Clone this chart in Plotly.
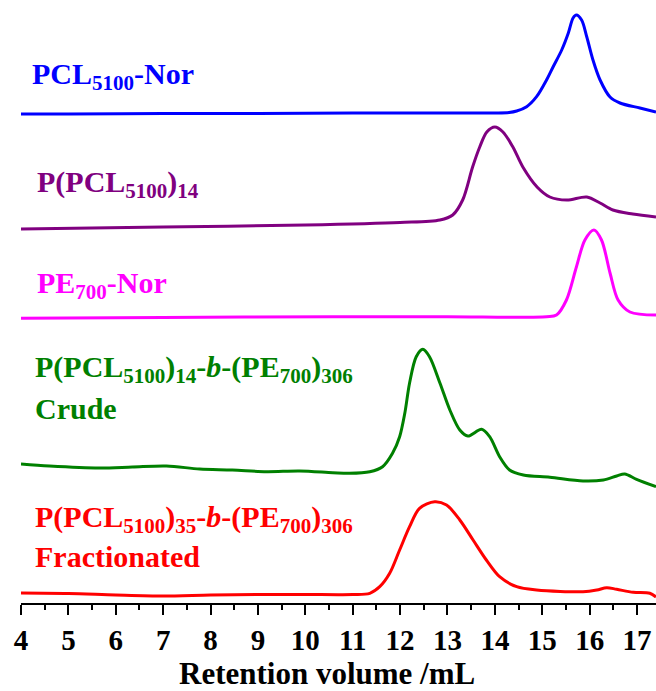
import plotly.graph_objects as go

# GPC traces (retention volume in mL, stacked detector response in a.u.)
pcl_nor_x = [4.0, 5.0, 7.0, 9.0, 11.0, 13.0, 14.0, 14.3, 14.46, 14.67, 14.88, 15.09, 15.23, 15.41,
             15.55, 15.65, 15.72, 15.83, 15.94, 16.07, 16.22, 16.43, 16.64, 17.06, 17.4]
pcl_nor_y = [488, 488, 488.5, 488.5, 489, 489, 489, 489.5, 491, 495.3, 505.3, 522, 535.3, 552,
             569, 584, 587, 582, 565, 542, 522, 505, 499, 494, 490]

ppcl_x = [4.0, 7.0, 10.0, 12.0, 12.84, 13.11, 13.32, 13.53, 13.68, 13.83, 14.0,
          14.17, 14.38, 14.59, 14.89, 15.16, 15.52, 15.94, 16.22, 16.49, 16.91, 17.4]
ppcl_y = [373, 375, 377, 379.5, 382, 387, 402, 435, 455, 470, 475,
          470, 455, 435, 415, 405, 402, 405, 399, 392, 388, 385]

pe_nor_x = [4.0, 7.0, 10.58, 13.0, 15.09, 15.30, 15.51, 15.72, 15.90, 16.09, 16.25, 16.43,
            16.60, 16.85, 17.4]
pe_nor_y = [283.7, 284.5, 285.3, 285.3, 285.3, 287, 302, 335, 362, 372, 362, 329,
            302, 290, 287]

crude_x = [4.0, 4.6, 5.65, 6.35, 7.07, 7.77, 8.46, 9.18, 9.88, 10.58, 10.93, 11.36, 11.63,
           11.84, 11.99, 12.10, 12.20, 12.34, 12.48, 12.62, 12.84, 13.05, 13.26, 13.43,
           13.72, 13.89, 14.10, 14.31, 14.60, 15.16, 15.86, 16.29, 16.57, 16.74, 16.99, 17.4]
crude_y = [138, 136, 134, 135, 136, 133, 132, 130.3, 131, 129.3, 128.7, 130.3, 135.3,
           148.7, 165.3, 189, 219, 245.3, 252.7, 245.3, 219, 192, 172, 166,
           172.7, 165.3, 145.3, 132, 127, 124.7, 121, 122, 126, 128, 122.7, 115.3]

frac_x = [4.0, 5.0, 6.0, 7.0, 8.0, 9.0, 10.0, 11.0, 11.36, 11.57, 11.78, 11.99, 12.20,
          12.41, 12.73, 12.98, 13.26, 13.54, 13.82, 14.10, 14.46, 14.88, 15.86, 16.15,
          16.36, 16.57, 16.92, 17.27, 17.4]
frac_y = [9, 8.5, 7, 6, 7, 7.5, 7.5, 7.5, 8.7, 15.3, 28.7, 52, 75.3,
          93.7, 100.3, 97, 82, 62, 42, 25.3, 15.3, 12, 10.3, 12,
          14.3, 12.7, 9.7, 8.7, 5]

x_ticks = list(range(4, 18))
x_title = "Retention volume /mL"

FONT = "Liberation Serif"

series = [
    (pcl_nor_x, pcl_nor_y, "#0000FF"),
    (ppcl_x, ppcl_y, "#800080"),
    (pe_nor_x, pe_nor_y, "#FF00FF"),
    (crude_x, crude_y, "#008000"),
    (frac_x, frac_y, "#FF0000"),
]

fig = go.Figure()
for xs, ys, col in series:
    fig.add_trace(go.Scatter(
        x=xs, y=ys, mode="lines",
        line=dict(color=col, width=3, shape="spline", smoothing=0.9),
        showlegend=False, hoverinfo="skip",
    ))

labels = [
    ("PCL<sub>5100</sub>-Nor", 4.2, 526, "#0000FF"),
    ("P(PCL<sub>5100</sub>)<sub>14</sub>", 4.3, 418, "#800080"),
    ("PE<sub>700</sub>-Nor", 4.3, 317, "#FF00FF"),
    ("P(PCL<sub>5100</sub>)<sub>14</sub>-<i>b</i>-(PE<sub>700</sub>)<sub>306</sub>", 4.25, 233, "#008000"),
    ("Crude", 4.25, 194, "#008000"),
    ("P(PCL<sub>5100</sub>)<sub>35</sub>-<i>b</i>-(PE<sub>700</sub>)<sub>306</sub>", 4.25, 83, "#FF0000"),
    ("Fractionated", 4.25, 46, "#FF0000"),
]
for text, lx, ly, col in labels:
    fig.add_annotation(
        x=lx, y=ly, xref="x", yref="y", text="<b>" + text + "</b>", showarrow=False,
        xanchor="left", yanchor="middle",
        font=dict(family=FONT, size=30, color=col),
    )

fig.add_annotation(
    x=0.482, y=-0.117, xref="paper", yref="paper", text="<b>" + x_title + "</b>",
    showarrow=False, xanchor="center", yanchor="middle",
    font=dict(family=FONT, size=31, color="black"),
)

fig.update_xaxes(
    range=[4, 17.4], tickvals=x_ticks, ticktext=["<b>%d</b>" % v for v in x_ticks],
    ticks="outside", ticklen=10, tickwidth=2, tickcolor="black",
    minor=dict(dtick=0.5, tick0=4, ticks="outside", ticklen=5, tickwidth=2, tickcolor="black"),
    showline=True, linecolor="black", linewidth=2, showgrid=False, zeroline=False,
    tickfont=dict(family=FONT, size=29, color="black"),
)
fig.update_yaxes(range=[-1, 602], visible=False, showgrid=False, zeroline=False)

fig.update_layout(
    width=656, height=691,
    margin=dict(l=21, r=0, t=0, b=88),
    plot_bgcolor="white", paper_bgcolor="white",
)

fig.write_html("out.html")
